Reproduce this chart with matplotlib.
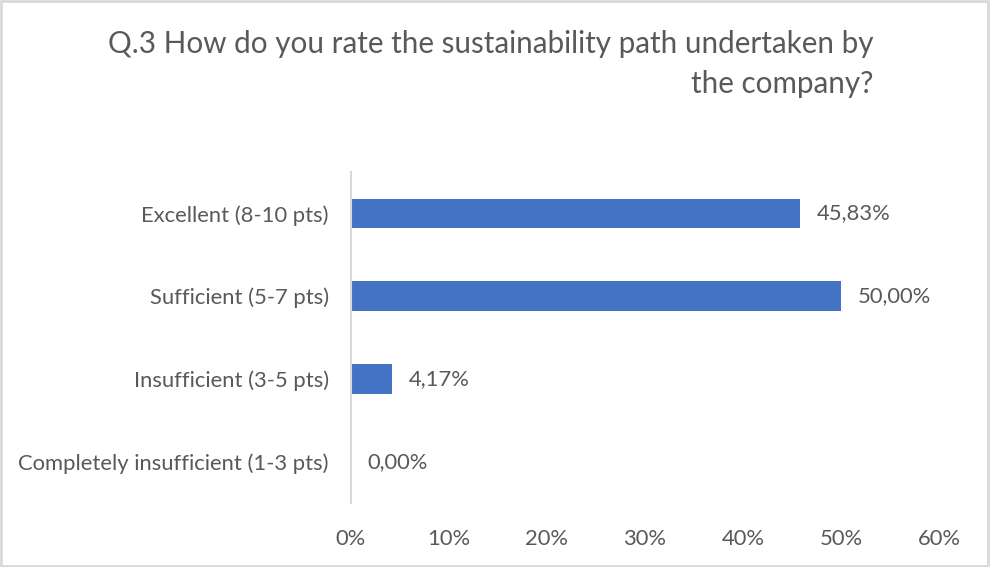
import matplotlib.pyplot as plt
from matplotlib.patches import Rectangle

# survey answers, bottom to top as drawn
categories = ["Completely insufficient (1-3 pts)", "Insufficient (3-5 pts)",
              "Sufficient (5-7 pts)", "Excellent (8-10 pts)"]
values = [0.00, 4.17, 50.00, 45.83]
xticks = [0, 10, 20, 30, 40, 50, 60]

plt.rcParams['font.family'] = ['Lato', 'DejaVu Sans']
grey = '#595959'
fs = 15.8

fig = plt.figure(figsize=(9.9, 5.67), dpi=100)
ax = fig.add_axes([0.3545, 0.1129, 0.594, 0.5837])

ax.barh(range(len(categories)), values, height=0.36, color='#4472C4')
for i, v in enumerate(values):
    ax.text(v + 1.7, i, f"{v:.2f}%".replace('.', ','), va='center', ha='left',
            fontsize=fs, color=grey)

ax.set_xlim(0, 60)
ax.set_ylim(-0.5, len(categories) - 0.5)
ax.set_yticks(range(len(categories)))
ax.set_yticklabels(categories)
ax.set_xticks(xticks)
ax.set_xticklabels([f"{t}%" for t in xticks])
ax.tick_params(axis='both', length=0, labelsize=fs, labelcolor=grey)
ax.tick_params(axis='y', pad=16)
ax.tick_params(axis='x', pad=19)
for s in ['top', 'right', 'bottom']:
    ax.spines[s].set_visible(False)
ax.spines['left'].set_color('#D9D9D9')
ax.spines['left'].set_linewidth(1.5)

fig.text(0.882, 0.947, "Q.3 How do you rate the sustainability path undertaken by\nthe company?",
         ha='right', va='top', multialignment='right', fontsize=21.3, color=grey,
         linespacing=1.5)

# light chart-area frame
fig.patches.append(Rectangle((0.001, 0.002), 0.997, 0.996, transform=fig.transFigure,
                             fill=False, edgecolor='#D9D9D9', linewidth=2))

fig.savefig('out.png', dpi=100, facecolor='white')
